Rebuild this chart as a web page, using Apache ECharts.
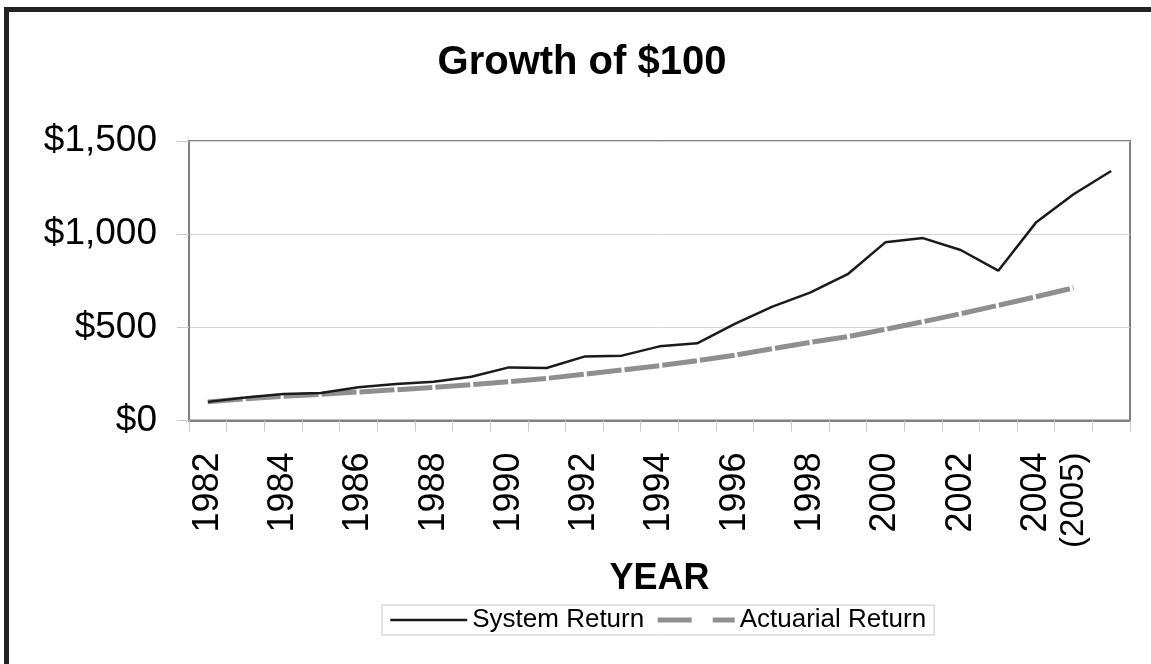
<!DOCTYPE html>
<html>
<head>
<meta charset="utf-8">
<script src="https://cdn.jsdelivr.net/npm/echarts@6/dist/echarts.min.js"></script>
<style>
html,body{margin:0;padding:0;background:#fff;}
#chart{width:1151px;height:664px;}
</style>
</head>
<body>
<div id="chart"></div>
<script>
const categories = ['1982','1983','1984','1985','1986','1987','1988','1989','1990','1991','1992','1993','1994','1995','1996','1997','1998','1999','2000','2001','2002','2003','2004','(2005)',''];
const systemReturn = [100, 124, 142, 147, 178, 196, 208, 235, 285, 282, 343, 348, 398, 414, 518, 611, 686, 785, 956, 979, 915, 804, 1062, 1214, 1339];
const actuarialReturn = [100, 117, 130, 140, 153, 165, 178, 192, 208, 226, 248, 271, 294, 321, 350, 385, 419, 450, 489, 530, 573, 618, 664, 712];
const yTicks = [0, 500, 1000, 1500];

const FONT = "'Liberation Sans', Arial, sans-serif";
function money(v){ return '$' + String(v).replace(/\B(?=(\d{3})+(?!\d))/g, ','); }

const chart = echarts.init(document.getElementById('chart'), null, {renderer:'canvas'});
chart.setOption({
  backgroundColor: '#fff',
  animation: false,
  title: {
    text: 'Growth of $100',
    left: 577, top: 38, textAlign: 'center',
    textStyle: {fontFamily: FONT, fontSize: 40, fontWeight: 'bold', color: '#000'}
  },
  graphic: [{
    type: 'rect',
    shape: {x: 6.5, y: 9.5, width: 1300, height: 800},
    style: {fill: null, stroke: '#222', lineWidth: 5},
    silent: true
  }],
  legend: {
    left: 382, top: 605,
    padding: [2, 8, 2, 7],
    itemWidth: 77, itemHeight: 14, itemGap: 11,
    borderColor: '#c8c8c8', borderWidth: 1,
    itemStyle: {opacity: 0},
    textStyle: {fontFamily: FONT, fontSize: 26, color: '#000', lineHeight: 26},
    data: [
      {name: 'System Return', lineStyle: {width: 2.5, color: '#1a1a1a', type: 'solid'}},
      {name: 'Actuarial Return', lineStyle: {width: 5, color: '#8f8f8f', type: [34, 21]}}
    ]
  },
  grid: {left: 189, right: 21, top: 141, bottom: 243.5, show: true, borderColor: '#808080', borderWidth: 2, containLabel: false},
  xAxis: {
    type: 'category',
    data: categories,
    boundaryGap: true,
    name: 'YEAR', nameLocation: 'middle', nameGap: 141,
    nameTextStyle: {fontFamily: FONT, fontSize: 36, fontWeight: 'bold', color: '#000', verticalAlign: 'top'},
    axisLine: {show: true, lineStyle: {color: '#808080', width: 2}},
    axisTick: {show: true, interval: 0, length: 11, lineStyle: {color: '#c8c8c8', width: 1}},
    axisLabel: {
      rotate: 90, margin: 32,
      interval: function(i, v){ return (i % 2 === 0 && v !== '') || v === '(2005)'; },
      fontFamily: FONT, fontSize: 36, color: '#000',
      formatter: function(v){ return v === '(2005)' ? '{s|' + v + '}' : v; },
      rich: {s: {fontFamily: FONT, fontSize: 33, color: '#000'}}
    },
    splitLine: {show: false}
  },
  yAxis: {
    type: 'value',
    min: yTicks[0], max: yTicks[yTicks.length - 1], interval: 500,
    axisLine: {show: true, lineStyle: {color: '#808080', width: 2}},
    axisTick: {show: true, length: 12, lineStyle: {color: '#c8c8c8', width: 1}},
    axisLabel: {margin: 32, fontFamily: FONT, fontSize: 37, color: '#000', formatter: money},
    splitLine: {show: true, lineStyle: {color: '#d6d6d6', width: 1}}
  },
  series: [
    {
      name: 'System Return', type: 'line', data: systemReturn,
      symbol: 'none', smooth: false,
      lineStyle: {color: '#1a1a1a', width: 2.5},
      itemStyle: {color: '#1a1a1a'},
      z: 3
    },
    {
      name: 'Actuarial Return', type: 'line', data: actuarialReturn,
      symbol: 'none', smooth: false,
      lineStyle: {color: '#8f8f8f', width: 5, type: [35, 3]},
      itemStyle: {color: '#8f8f8f'},
      z: 2
    }
  ]
});
</script>
</body>
</html>
